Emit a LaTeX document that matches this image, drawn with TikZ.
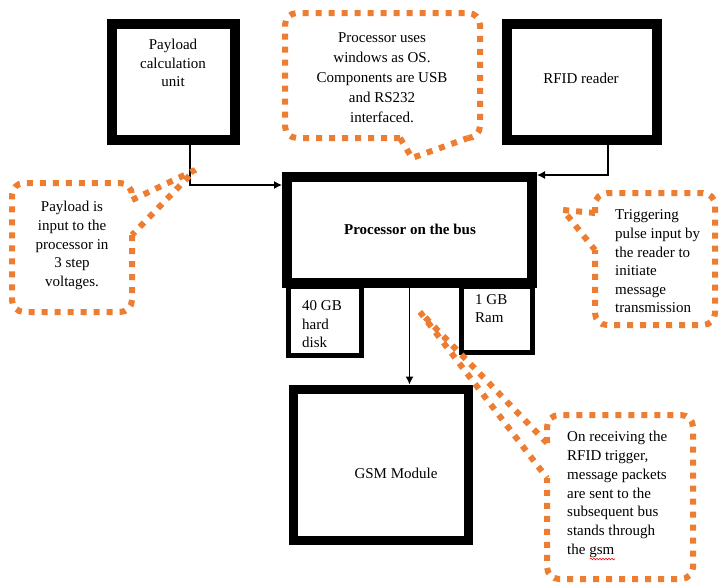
\documentclass[tikz,border=0pt]{standalone}
\usepackage{fontspec}
\setmainfont{Liberation Serif}
\usetikzlibrary{arrows.meta,decorations.pathmorphing}
\definecolor{calloutorange}{HTML}{ED7D31}
\begin{document}
\begin{tikzpicture}[x=1pt,y=-1pt,
  box/.style={draw=black,fill=white,line width=#1,inner sep=0pt},
  box/.default=10pt,
  txt/.style={font=\fontsize{15}{18.8}\selectfont,inner sep=0pt,text=black},
  conn/.style={draw=black,line width=1.2pt,-{Latex[length=8pt,width=8pt]}},
  callout/.style={draw=calloutorange,line width=6pt,dash pattern=on 6pt off 7pt,rounded corners=12pt},
  tail/.style={draw=calloutorange,line width=6pt,dash pattern=on 6pt off 7pt,line join=bevel},
]
\useasboundingbox[fill=white] (0,0) rectangle (719,584);

% boxes
\node[box=5pt,minimum width=73pt,minimum height=69pt] (hdd) at (324.5,320.5) {};
\node[box=5pt,minimum width=71pt,minimum height=66pt] (ram) at (497,319) {};
\node[box,minimum width=123pt,minimum height=116pt] (pay) at (173.5,82) {};
\node[box,minimum width=150pt,minimum height=116pt] (rfid) at (582,82) {};
\node[box,minimum width=245pt,minimum height=106pt] (proc) at (409.5,230) {};
\node[box=9pt,minimum width=175pt,minimum height=151pt] (gsm) at (380.5,464.5) {};

% box texts
\node[txt,align=center] (paytxt) at (173,63) {Payload\\calculation\\unit};
\node[txt] (rfidtxt) at (581,78) {RFID reader};
\node[txt] (proctxt) at (410,229) {\textbf{Processor on the bus}};
\node[txt,align=left,anchor=west,font=\fontsize{15}{18.5}\selectfont] (hddtxt) at (302,324.5) {40 GB\\hard\\disk};
\node[txt,align=left,anchor=west,font=\fontsize{15}{17.5}\selectfont] (ramtxt) at (475,308.5) {1 GB\\Ram};
\node[txt] (gsmtxt) at (396,473) {GSM Module};

% connectors
\coordinate (j1) at (190,185);
\coordinate (j2) at (608,175);
\draw[conn] (pay.south -| j1) |- (proc.west |- j1);
\draw[conn] (rfid.south -| j2) |- (proc.east |- j2);
\draw[conn] (proc.south) -- (gsm.north -| proc.south);

% callout: processor OS
\draw[callout] (400,138) -- (285,138) -- (285,13) -- (480,13) -- (480,138) -- (468,138);
\draw[tail] (400,138) -- (412,158) -- (468,138);
\node[txt,align=center,font=\fontsize{15}{20}\selectfont] (ostxt) at (382,78)
  {Processor uses\\windows as OS.\\Components are USB\\and RS232\\interfaced.};

% callout: payload
\draw[callout] (132,235) -- (132,312) -- (12,312) -- (12,183) -- (132,183) -- (132,200);
\draw[tail] (132,200) -- (195,170) -- (132,235);
\node[txt,align=center] (paynote) at (72,245.5)
  {Payload is\\input to the\\processor in\\3 step\\voltages.};

% callout: trigger
\draw[callout] (595,213) -- (595,193) -- (715,193) -- (715,325) -- (595,325) -- (595,250);
\draw[tail] (595,213) -- (563,210) -- (595,250);
\node[txt,align=left,anchor=west,font=\fontsize{15}{18.6}\selectfont] (trignote) at (615,261.5)
  {Triggering\\pulse input by\\the reader to\\initiate\\message\\transmission};

% callout: gsm message
\draw[callout] (547,443) -- (547,415) -- (693,415) -- (693,579) -- (547,579) -- (547,478);
\draw[tail] (547,443) -- (420,312) -- (547,478);
\node[txt,align=left,anchor=west] (gsmnote) at (567,494.5)
  {On receiving the\\RFID trigger,\\message packets\\are sent to the\\subsequent bus\\stands through\\the gsm};
\draw[red,line width=0.6pt,decorate,decoration={snake,amplitude=0.8pt,segment length=3pt}] (590,559) -- (615,559);
\end{tikzpicture}
\end{document}
